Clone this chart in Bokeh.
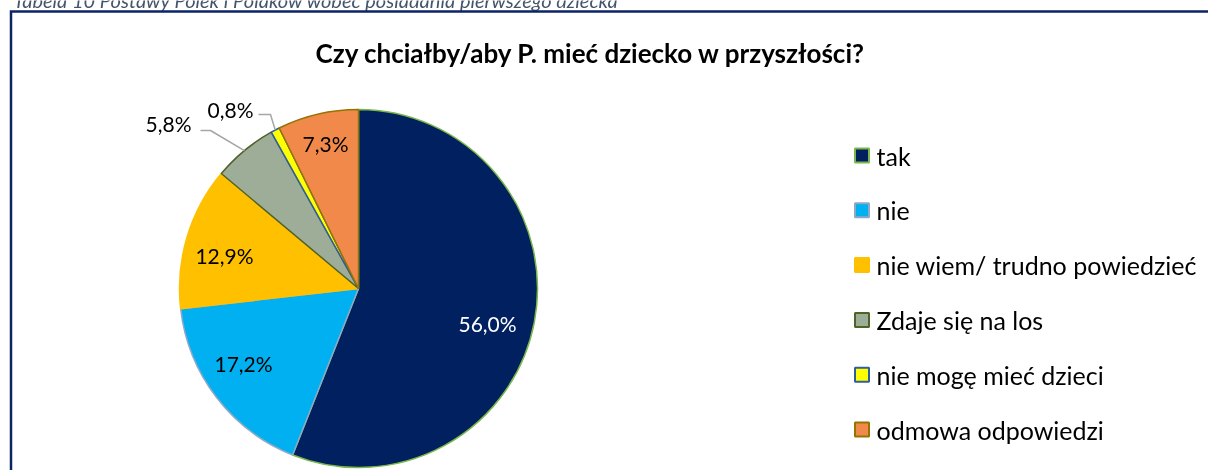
import math
from bokeh.plotting import figure
from bokeh.models import Range1d, ColumnDataSource
from bokeh.core.properties import value
from bokeh.embed import file_html
from bokeh.resources import INLINE

# ---------------- data ----------------
categories = ["tak", "nie", "nie wiem/ trudno powiedzieć", "Zdaje się na los",
              "nie mogę mieć dzieci", "odmowa odpowiedzi"]
shares = [56.0, 17.2, 12.9, 5.8, 0.8, 7.3]
value_labels = ["56,0%", "17,2%", "12,9%", "5,8%", "0,8%", "7,3%"]
title_text = "Czy chciałby/aby P. mieć dziecko w przyszłości?"
caption_text = "Tabela 10 Postawy Polek i Polaków wobec posiadania pierwszego dziecka"

# ---------------- styles ----------------
fill_colors = ["#002060", "#00B0F0", "#FFC000", "#9EAD98", "#FFFF00", "#F0894A"]
line_colors = ["#7AB648", "#8EA9C8", "#FFC000", "#4F6228", "#2E5E9E", "#947400"]
label_colors = ["#FFFFFF", "#000000", "#000000", "#000000", "#000000", "#000000"]
FONT = "Lato"

# canvas a little larger than the 1208x470 window; the chart frame runs off
# the right and bottom edges, as in the source
W, H = 1240, 490


def Y(y):
    return H - y


p = figure(width=W, height=H, x_range=Range1d(0, W), y_range=Range1d(0, H),
           output_backend="svg", toolbar_location=None, min_border=0)
p.axis.visible = False
p.grid.visible = False
p.outline_line_color = None
p.background_fill_color = "white"
p.border_fill_color = "white"
p.styles = {"position": "fixed", "top": "0px", "left": "0px"}

# caption (cut by the top edge, as in the source)
p.text(x=[13], y=[Y(-1)], text=[caption_text], text_font=value(FONT),
       text_font_style="italic", text_font_size="20px", text_color="#44546A",
       text_baseline="alphabetic", text_align="left")

# chart frame (left and top edges visible)
p.line(x=[10.5, 10.5, W], y=[0, Y(11), Y(11)], line_color="#0C2366",
       line_width=2.5, line_join="miter")

# title
p.text(x=[315], y=[Y(52)], text=[title_text], text_font=value(FONT),
       text_font_style="bold", text_font_size="26px", text_color="#000000",
       text_baseline="middle", text_align="left")

# pie
cx, cy, R = 358, Y(288), 179
total = sum(shares)
starts, ends, mids = [], [], []
cum = 0.0
for s in shares:
    starts.append(math.pi / 2 - 2 * math.pi * cum / total)
    mids.append(360.0 * (cum + s / 2) / total)
    cum += s
    ends.append(math.pi / 2 - 2 * math.pi * cum / total)

src = ColumnDataSource(dict(start=starts, end=ends, fill=fill_colors,
                            line=line_colors, cat=categories))
p.wedge(x=cx, y=cy, radius=R, start_angle="start", end_angle="end",
        direction="clock", fill_color="fill", line_color="line",
        line_width=1.5, source=src)

# inside labels (polar placement from slice mid angle)
inside_r = [0.747, 0.767, 0.771, None, None, 0.83]
inside_nudge = [4.4, 4.3, -2.9, 0, 0, 0.3]
lx, ly, lt, lc = [], [], [], []
for i, rf in enumerate(inside_r):
    if rf is None:
        continue
    a = math.radians(mids[i] + inside_nudge[i])
    lx.append(cx + rf * R * math.sin(a))
    ly.append(cy + rf * R * math.cos(a))
    lt.append(value_labels[i])
    lc.append(label_colors[i])
p.text(x=lx, y=ly, text=lt, text_color=lc, text_font=value(FONT),
       text_font_size="21px", text_align="center", text_baseline="middle")

# outside labels with leader lines
outside = {3: ((168, 123), (200, 130), (210, 130)),
           4: ((230, 109), (258, 114), (270, 114))}
for i, (lab, p1, p2) in outside.items():
    a = math.radians(mids[i])
    ex = cx + R * math.sin(a)
    ey = cy + R * math.cos(a)
    p.line(x=[p1[0], p2[0], ex], y=[Y(p1[1]), Y(p2[1]), ey],
           line_color="#A6A6A6", line_width=1.5)
    p.text(x=[lab[0]], y=[Y(lab[1])], text=[value_labels[i]],
           text_color=label_colors[i], text_font=value(FONT),
           text_font_size="21px", text_align="center", text_baseline="middle")

# legend
leg_y = [Y(155 + i * 54.8) for i in range(len(categories))]
p.rect(x=[861.5] * len(categories), y=leg_y, width=14, height=14,
       fill_color=fill_colors, line_color=line_colors, line_width=2)
p.text(x=[876] * len(categories), y=leg_y, text=categories,
       text_font=value(FONT), text_font_size="25px", text_color="#000000",
       text_align="left", text_baseline="middle")

open("out.html", "w").write(file_html(p, INLINE))
